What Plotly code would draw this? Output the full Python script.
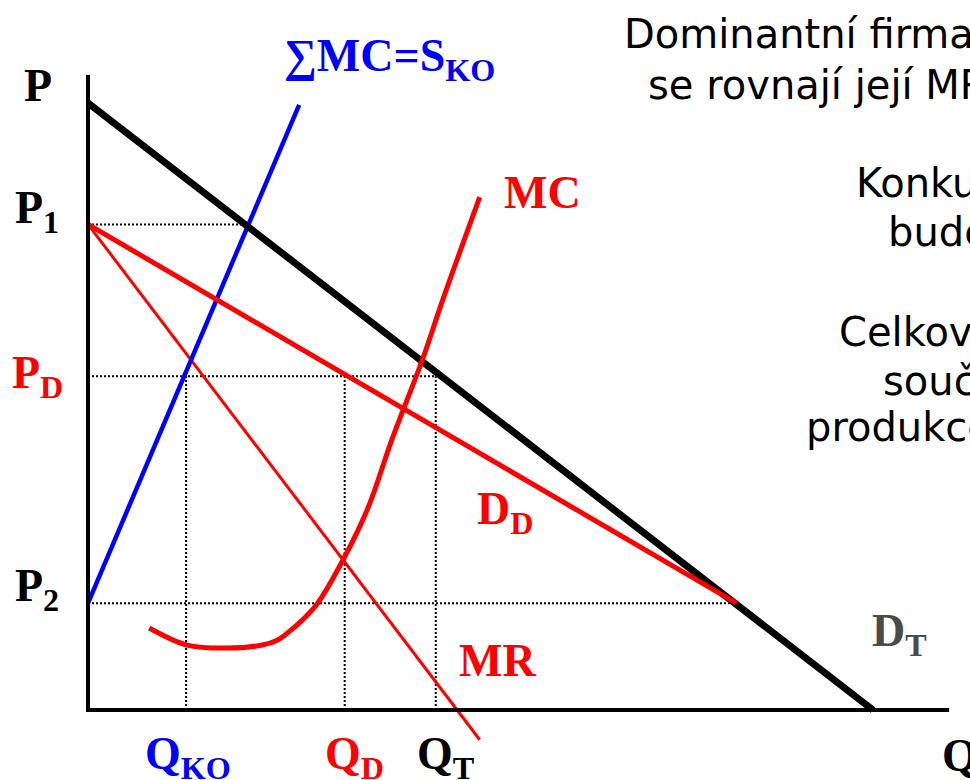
import plotly.graph_objects as go

# ---------------- data (economic units: quantity Q, price P) ----------------
P1 = 80.0
P_D = 55.0
P2 = 17.6
Q_KO = 12.5
Q_D = 32.7
Q_T = 44.3

axis_q = [0, 0, 109.7]
axis_p = [104.6, 0, 0]

dt_q = [0, 100]
dt_p = [100, 0]

smc_q = [0, 26.9]
smc_p = [17.6, 99.7]

dd_q = [0, 82.6]
dd_p = [80, 17.6]

mr_q = [0, 49.9]
mr_p = [80, -4.9]

mc_q = [7.8, 12.6, 17.7, 22.2, 24.1, 25.7, 27.3, 29.2, 32.6, 35.7, 38.7, 42.6, 45.2, 49.9]
mc_p = [13.5, 10.7, 10.2, 10.7, 11.5, 13.0, 14.8, 17.5, 25.0, 33.4, 44.5, 57.7, 67.6, 84.5]

p1_guide_q = [0, 20.3]
p2_guide_q = [0, 82.6]

# ---------------- layout constants ----------------
W, H = 970, 780
X0_PX, Y0_PX = 88, 710
QS, PS = 7.85, 6.07   # pixels per unit

RED = "#ff0000"
BLUE = "#0000ff"
BLACK = "#000000"

fig = go.Figure()

def line(q, p, color, width, dash="solid", shape="linear"):
    fig.add_trace(go.Scatter(x=q, y=p, mode="lines",
                             line=dict(color=color, width=width, dash=dash, shape=shape),
                             hoverinfo="skip", showlegend=False))

DOT = "2px,2px"
# dotted guides
line(p1_guide_q, [P1, P1], BLACK, 2, DOT)
line([0, Q_T], [P_D, P_D], BLACK, 2, DOT)
line(p2_guide_q, [P2, P2], BLACK, 2, DOT)
for qv in (Q_KO, Q_D, Q_T):
    line([qv, qv], [0, P_D], BLACK, 2, DOT)

# curves
line(mr_q, mr_p, RED, 3)
line(smc_q, smc_p, BLUE, 4.5)
line(dt_q, dt_p, BLACK, 7)
line(dd_q, dd_p, RED, 5)
line(mc_q, mc_p, RED, 5, shape="spline")

# axes
line(axis_q, axis_p, BLACK, 4)

# ---------------- labels ----------------
SERIF = "Liberation Serif"
SANS = "DejaVu Sans"
annos = []

def label(text, left, baseline, size, color, family=SERIF, asc=0.891, bold=True):
    t = f"<b>{text}</b>" if bold else text
    annos.append(dict(
        text=t, x=left / W, y=1 - (baseline - asc * size - 1) / H,
        xref="paper", yref="paper", xanchor="left", yanchor="top",
        showarrow=False, borderpad=1,
        font=dict(family=family, size=size, color=color)))

LS = 46
label("P", 22, 100, LS, BLACK)
label("P<sub>1</sub>", 13, 222, LS, BLACK)
label("P<sub>D</sub>", 10, 387, LS, RED)
label("P<sub>2</sub>", 13, 600, LS, BLACK)
label("∑MC=S<sub>KO</sub>", 282, 70, LS, BLUE)
label("MC", 502, 207, LS, RED)
label("D<sub>D</sub>", 475, 523, LS, RED)
label("MR", 457, 675, LS, RED)
label("D<sub>T</sub>", 870, 645, LS, "#4a4a4a")
label("Q<sub>KO</sub>", 143, 768, LS, BLUE)
label("Q<sub>D</sub>", 323, 768, LS, RED)
label("Q<sub>T</sub>", 415, 768, LS, BLACK)
label("Q", 940, 770, LS, BLACK)

TS = 40
side_text = [
    ("Dominantní firma vyrábí tam, kde", 622, 47),
    ("se rovnají její MR a MC", 646, 98),
    ("Konkurenční okraj", 854, 196),
    ("bude vyrábět Q<sub>KO</sub>", 886, 245),
    ("Celková produkce je", 837, 345),
    ("součtem", 881, 394),
    ("produkce obou skupin", 804, 440),
]
for txt, lx, bl in side_text:
    label(txt, lx, bl, TS, BLACK, family=SANS, asc=0.928, bold=False)

fig.update_layout(
    width=W, height=H,
    margin=dict(l=0, r=0, t=0, b=0),
    paper_bgcolor="white", plot_bgcolor="white",
    xaxis=dict(range=[-X0_PX / QS, (W - X0_PX) / QS], visible=False, fixedrange=True),
    yaxis=dict(range=[-(H - Y0_PX) / PS, Y0_PX / PS], visible=False, fixedrange=True),
    annotations=annos,
    hovermode=False,
)

fig.write_html("out.html", config={"displayModeBar": False},
               post_script="document.body.style.margin='0';document.body.style.overflow='hidden';")
